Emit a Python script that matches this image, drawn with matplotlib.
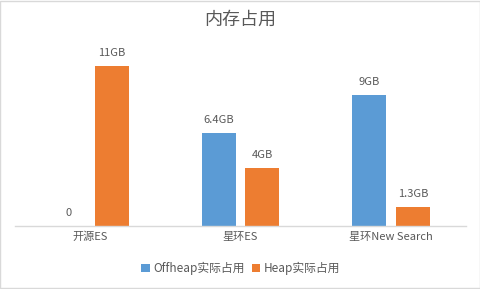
import matplotlib
matplotlib.use("Agg")
import matplotlib.pyplot as plt
import numpy as np
from matplotlib.patches import Rectangle

plt.rcParams['font.family'] = ['Noto Sans CJK SC', 'DejaVu Sans']

categories = ['开源ES', '星环ES', '星环New Search']
offheap = [0, 6.4, 9]
heap = [11, 4, 1.3]
offheap_labels = ['0', '6.4GB', '9GB']
heap_labels = ['11GB', '4GB', '1.3GB']
series_names = ['Offheap实际占用', 'Heap实际占用']
title = '内存占用'

blue = '#5B9BD5'
orange = '#ED7D31'
txt = '#595959'

fig = plt.figure(figsize=(4.81, 2.89), dpi=100)
fig.patch.set_facecolor('white')
fig.patches.append(Rectangle((0.001, 0.002), 0.997, 0.995, transform=fig.transFigure,
                             fill=False, edgecolor='#D9D9D9', linewidth=1))

ax = fig.add_axes([0.031, 0.218, 0.938, 0.644])
x = np.arange(len(categories))
w = 0.226
off = 0.146
b1 = ax.bar(x - off, offheap, w, color=blue, label=series_names[0])
b2 = ax.bar(x + off, heap, w, color=orange, label=series_names[1])

for xi, v, lab in zip(x - off, offheap, offheap_labels):
    ax.annotate(lab, (xi, v), xytext=(0, 6), textcoords='offset points',
                ha='center', va='bottom', fontsize=8, color=txt)
for xi, v, lab in zip(x + off, heap, heap_labels):
    ax.annotate(lab, (xi, v), xytext=(0, 6), textcoords='offset points',
                ha='center', va='bottom', fontsize=8, color=txt)

ax.set_xlim(-0.5, len(categories) - 0.5)
ax.set_ylim(0, 12.8)
ax.set_xticks(x)
ax.set_xticklabels(categories, fontsize=8, color=txt)
ax.tick_params(axis='x', length=0, pad=4)
ax.set_yticks([])
for s in ['top', 'right', 'left']:
    ax.spines[s].set_visible(False)
ax.spines['bottom'].set_color('#D9D9D9')
ax.spines['bottom'].set_linewidth(1)

fig.text(0.5, 0.93, title, ha='center', va='center', fontsize=13, color=txt)

fig.legend(handles=[b1, b2], loc='center', bbox_to_anchor=(0.5, 0.07), ncol=2,
           frameon=False, fontsize=8.5, handlelength=0.7, handleheight=0.7,
           handletextpad=0.3, columnspacing=0.6, labelcolor=txt)

fig.savefig('out.png', dpi=100)
